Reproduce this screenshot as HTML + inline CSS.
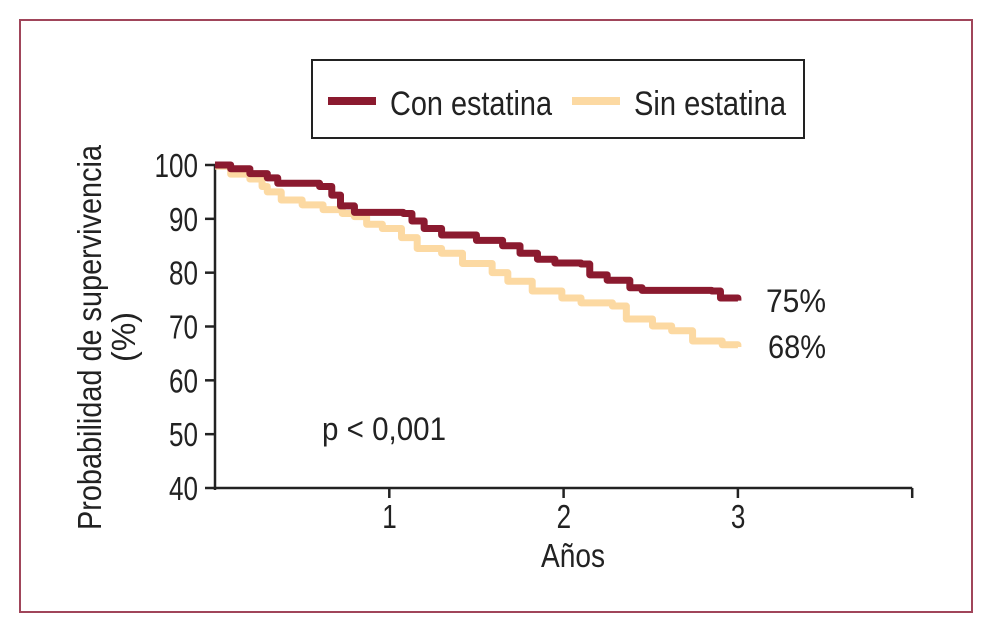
<!DOCTYPE html>
<html><head><meta charset="utf-8"><style>
html,body{margin:0;padding:0;background:#fff;}
svg{display:block;font-family:"Liberation Sans Narrow","Liberation Sans",sans-serif;}
</style></head><body>
<svg width="987" height="629" viewBox="0 0 987 629">
<rect x="20" y="20" width="952" height="592" fill="none" stroke="#a0455a" stroke-width="2"/>
<g>
<rect x="312" y="60" width="492" height="78" fill="#fff" stroke="#222" stroke-width="2"/>
<line x1="328" y1="101" x2="376" y2="101" stroke="#8b1a2f" stroke-width="8"/>
<text x="390" y="115" font-size="34" fill="#222" textLength="162" lengthAdjust="spacingAndGlyphs">Con estatina</text>
<line x1="572" y1="101" x2="620" y2="101" stroke="#fcd9a2" stroke-width="8"/>
<text x="634" y="115" font-size="34" fill="#222" textLength="152" lengthAdjust="spacingAndGlyphs">Sin estatina</text>
</g>
<g id="axes"></g>
<g id="series"></g>
<text x="322" y="440" font-size="32" fill="#222" textLength="124" lengthAdjust="spacingAndGlyphs">p &lt; 0,001</text>
<text x="766" y="312" font-size="32" fill="#222" textLength="60" lengthAdjust="spacingAndGlyphs">75%</text>
<text x="768" y="358" font-size="32" fill="#222" textLength="58" lengthAdjust="spacingAndGlyphs">68%</text>
<text x="541" y="567" font-size="33" fill="#222" textLength="64" lengthAdjust="spacingAndGlyphs">Años</text>
<text transform="translate(101,530) rotate(-90)" font-size="33" fill="#222" textLength="385" lengthAdjust="spacingAndGlyphs">Probabilidad de supervivencia</text>
<text transform="translate(135,362) rotate(-90)" font-size="33" fill="#222" textLength="50" lengthAdjust="spacingAndGlyphs">(%)</text>
</svg>
<script>
const yTicks=[40,50,60,70,80,90,100];
const xTicks=[1,2,3];
const conTime=[0,0.09,0.2,0.3,0.36,0.6,0.67,0.72,0.8,1.08,1.13,1.2,1.3,1.5,1.65,1.75,1.85,1.95,2.1,2.15,2.25,2.38,2.45,2.85,2.9,3.0];
const conSurv=[100,99.3,98.4,97.6,96.6,96,94.4,92.4,91.2,91,89.6,88.2,87,86,85,83.6,82.5,81.8,81.6,79.6,78.6,77.2,76.7,76.6,75.3,74.8];
const sinTime=[0,0.09,0.2,0.27,0.3,0.38,0.5,0.62,0.73,0.8,0.87,0.96,1.07,1.16,1.3,1.42,1.59,1.68,1.82,1.99,2.1,2.28,2.36,2.51,2.62,2.74,2.91,3.0];
const sinSurv=[99.8,98.3,97.4,96,95,93.5,92.6,91.7,91,90.4,89,88.2,86.5,84.5,83.6,81.7,80,78.4,76.6,75.3,74.4,73.8,71.4,70.1,69.2,67.3,66.6,66.2];
const NS='http://www.w3.org/2000/svg';
const x0=215,xPer=174.3,yTop=165,yBot=488;
function sx(t){return x0+t*xPer;}
function sy(v){return yBot-(v-40)/60*(yBot-yTop);}
const axes=document.getElementById('axes');
function mk(tag,attrs,parent){const e=document.createElementNS(NS,tag);for(const k in attrs)e.setAttribute(k,attrs[k]);parent.appendChild(e);return e;}
let yl=mk('line',{x1:x0,y1:sy(100),x2:x0,y2:sy(40)+2,stroke:'#222','stroke-width':2.5},axes);


let xl=mk('line',{x1:x0,y1:sy(40),x2:sx(4),y2:sy(40),stroke:'#222','stroke-width':2.5},axes);


yTicks.forEach(v=>{
 const t=mk('line',{x1:x0-10,y1:sy(v),x2:x0,y2:sy(v),stroke:'#222','stroke-width':2.5},axes);
 
 
 const s=String(v);
 const l=mk('text',{x:198-s.length*14.5,y:sy(v)+12,'font-size':33,fill:'#222',textLength:s.length*14.5,lengthAdjust:'spacingAndGlyphs'},axes);
 l.textContent=s;
 
 
});
[...xTicks,4].forEach(v=>{
 const t=mk('line',{x1:sx(v),y1:sy(40),x2:sx(v),y2:sy(40)+10,stroke:'#222','stroke-width':2.5},axes);
 
 
});
xTicks.forEach(v=>{
 const l=mk('text',{x:sx(v)-7,y:sy(40)+40,'font-size':33,fill:'#222',textLength:14.5,lengthAdjust:'spacingAndGlyphs'},axes);
 l.textContent=v;
 
 
});
function stepPath(ts,vs){let d='M'+sx(ts[0])+','+sy(vs[0]);for(let i=1;i<ts.length;i++){d+=' H'+sx(ts[i])+' V'+sy(vs[i]);}return d;}
const ser=document.getElementById('series');
const ps=mk('path',{d:stepPath(sinTime,sinSurv),fill:'none',stroke:'#fcd9a2','stroke-width':7,'stroke-linejoin':'round'},ser);


const pc=mk('path',{d:stepPath(conTime,conSurv),fill:'none',stroke:'#8b1a2f','stroke-width':7,'stroke-linejoin':'round'},ser);


</script>
</body></html>
